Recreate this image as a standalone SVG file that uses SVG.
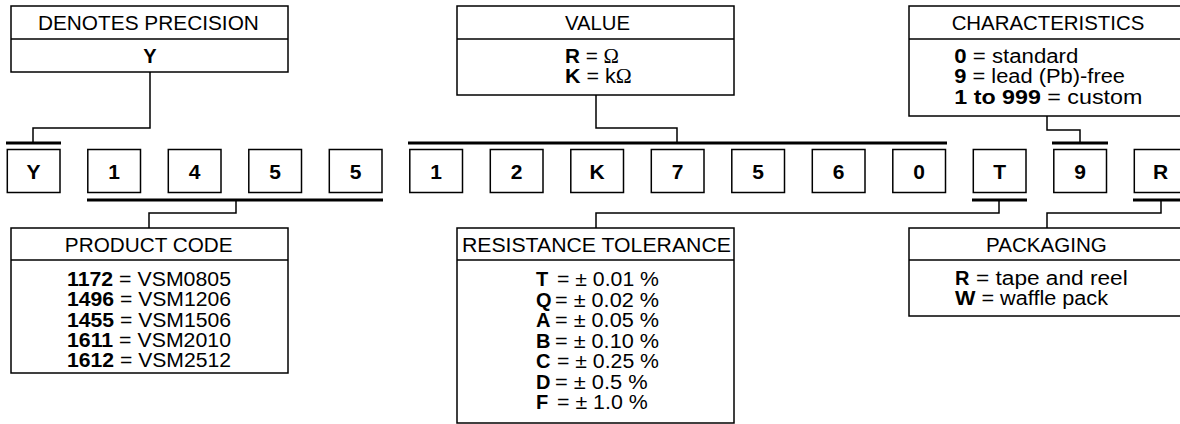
<svg xmlns="http://www.w3.org/2000/svg" width="1180" height="424" viewBox="0 0 1180 424">
<style>
text{font-family:"Liberation Sans",Arial,sans-serif;fill:#000}
.box{fill:#fff;stroke:#000;stroke-width:1.5}
.div{stroke:#000;stroke-width:1.5}
.t{font-size:20px;text-anchor:middle}
.b{font-size:20px}
.k{font-weight:bold}
.c{font-size:21px;font-weight:bold;text-anchor:middle}
.bar{stroke:#000;stroke-width:3;fill:none}
.ln{stroke:#000;stroke-width:1.5;fill:none}
.om{font-family:"Liberation Serif","Times New Roman",serif}
</style>
<rect width="1180" height="424" fill="#fff"/>
<g id="connectors">
<line class="bar" x1="6" y1="143" x2="61" y2="143"/>
<polyline class="ln" points="150,72 150,128 33,128 33,143"/>
<line class="bar" x1="408" y1="143" x2="947" y2="143"/>
<polyline class="ln" points="596,95 596,128 677,128 677,143"/>
<line class="bar" x1="1052" y1="143" x2="1108" y2="143"/>
<polyline class="ln" points="1047,116 1047,130 1080,130 1080,143"/>
<line class="bar" x1="87" y1="200" x2="383" y2="200"/>
<polyline class="ln" points="236,200 236,213 149,213 149,228"/>
<line class="bar" x1="972" y1="200" x2="1027" y2="200"/>
<polyline class="ln" points="999,200 999,213 596,213 596,228"/>
<line class="bar" x1="1133" y1="200" x2="1185" y2="200"/>
<polyline class="ln" points="1161,200 1161,213 1047,213 1047,228"/>
</g>
<g id="code">
<g id="c0"><rect class="box" x="7.3" y="149.5" width="52.7" height="43"/><text class="c" x="33.6" y="178.5">Y</text></g>
<g id="c1"><rect class="box" x="87.8" y="149.5" width="52.7" height="43"/><text class="c" x="114.1" y="178.5">1</text></g>
<g id="c2"><rect class="box" x="168.3" y="149.5" width="52.7" height="43"/><text class="c" x="194.6" y="178.5">4</text></g>
<g id="c3"><rect class="box" x="248.8" y="149.5" width="52.7" height="43"/><text class="c" x="275.1" y="178.5">5</text></g>
<g id="c4"><rect class="box" x="329.3" y="149.5" width="52.7" height="43"/><text class="c" x="355.6" y="178.5">5</text></g>
<g id="c5"><rect class="box" x="409.8" y="149.5" width="52.7" height="43"/><text class="c" x="436.1" y="178.5">1</text></g>
<g id="c6"><rect class="box" x="490.3" y="149.5" width="52.7" height="43"/><text class="c" x="516.6" y="178.5">2</text></g>
<g id="c7"><rect class="box" x="570.8" y="149.5" width="52.7" height="43"/><text class="c" x="597.1" y="178.5">K</text></g>
<g id="c8"><rect class="box" x="651.3" y="149.5" width="52.7" height="43"/><text class="c" x="677.6" y="178.5">7</text></g>
<g id="c9"><rect class="box" x="731.8" y="149.5" width="52.7" height="43"/><text class="c" x="758.1" y="178.5">5</text></g>
<g id="c10"><rect class="box" x="812.3" y="149.5" width="52.7" height="43"/><text class="c" x="838.6" y="178.5">6</text></g>
<g id="c11"><rect class="box" x="892.8" y="149.5" width="52.7" height="43"/><text class="c" x="919.1" y="178.5">0</text></g>
<g id="c12"><rect class="box" x="973.3" y="149.5" width="52.7" height="43"/><text class="c" x="999.6" y="178.5">T</text></g>
<g id="c13"><rect class="box" x="1053.8" y="149.5" width="52.7" height="43"/><text class="c" x="1080.1" y="178.5">9</text></g>
<g id="c14"><rect class="box" x="1134.3" y="149.5" width="52.7" height="43"/><text class="c" x="1160.6" y="178.5">R</text></g>
</g>
<g id="precision">
<rect class="box" x="11" y="6" width="277" height="66"/>
<line class="div" x1="11" y1="39" x2="288" y2="39"/>
<text class="t" x="148.4" y="29.5" textLength="221" lengthAdjust="spacingAndGlyphs">DENOTES PRECISION</text>
<text class="b k" x="150" y="63" text-anchor="middle">Y</text>
</g>
<g id="value">
<rect class="box" x="457" y="6" width="277" height="89"/>
<line class="div" x1="457" y1="39" x2="734" y2="39"/>
<text class="t" x="597.5" y="29.5" textLength="65" lengthAdjust="spacingAndGlyphs">VALUE</text>
<text class="b" x="565" y="63" textLength="54" lengthAdjust="spacingAndGlyphs"><tspan class="k">R</tspan> = <tspan class="om">Ω</tspan></text>
<text class="b" x="565" y="83" textLength="66.7" lengthAdjust="spacingAndGlyphs"><tspan class="k">K</tspan> = k<tspan class="om">Ω</tspan></text>
</g>
<g id="characteristics">
<rect class="box" x="909" y="6" width="277" height="110"/>
<line class="div" x1="909" y1="39" x2="1186" y2="39"/>
<text class="t" x="1048" y="29.5" textLength="192.7" lengthAdjust="spacingAndGlyphs">CHARACTERISTICS</text>
<text class="b" x="954.3" y="62.7" textLength="124" lengthAdjust="spacingAndGlyphs"><tspan class="k">0</tspan> = standard</text>
<text class="b" x="954.3" y="83.3" textLength="170.7" lengthAdjust="spacingAndGlyphs"><tspan class="k">9</tspan> = lead (Pb)-free</text>
<text class="b" x="954.3" y="104" textLength="188" lengthAdjust="spacingAndGlyphs"><tspan class="k">1 to 999</tspan> = custom</text>
</g>
<g id="product">
<rect class="box" x="11" y="228" width="277" height="145"/>
<line class="div" x1="11" y1="260" x2="288" y2="260"/>
<text class="t" x="148.7" y="252.3" textLength="167.7" lengthAdjust="spacingAndGlyphs">PRODUCT CODE</text>
<text class="b" x="67" y="286" textLength="164" lengthAdjust="spacingAndGlyphs"><tspan class="k">1172</tspan> = VSM0805</text>
<text class="b" x="67" y="306.3" textLength="164" lengthAdjust="spacingAndGlyphs"><tspan class="k">1496</tspan> = VSM1206</text>
<text class="b" x="67" y="326.6" textLength="164" lengthAdjust="spacingAndGlyphs"><tspan class="k">1455</tspan> = VSM1506</text>
<text class="b" x="67" y="346.9" textLength="164" lengthAdjust="spacingAndGlyphs"><tspan class="k">1611</tspan> = VSM2010</text>
<text class="b" x="67" y="367.2" textLength="164" lengthAdjust="spacingAndGlyphs"><tspan class="k">1612</tspan> = VSM2512</text>
</g>
<g id="tolerance">
<rect class="box" x="457" y="228" width="277" height="195"/>
<line class="div" x1="457" y1="260" x2="734" y2="260"/>
<text class="t" x="596.4" y="252.3" textLength="269" lengthAdjust="spacingAndGlyphs">RESISTANCE TOLERANCE</text>
<text class="b k" x="536" y="286">T</text><text class="b" x="557" y="286" textLength="102" lengthAdjust="spacingAndGlyphs">= ± 0.01 %</text>
<text class="b k" x="536" y="306.5">Q</text><text class="b" x="555" y="306.5" textLength="104" lengthAdjust="spacingAndGlyphs">= ± 0.02 %</text>
<text class="b k" x="536" y="327">A</text><text class="b" x="555" y="327" textLength="104" lengthAdjust="spacingAndGlyphs">= ± 0.05 %</text>
<text class="b k" x="536" y="347.5">B</text><text class="b" x="555" y="347.5" textLength="104" lengthAdjust="spacingAndGlyphs">= ± 0.10 %</text>
<text class="b k" x="536" y="368">C</text><text class="b" x="557" y="368" textLength="102" lengthAdjust="spacingAndGlyphs">= ± 0.25 %</text>
<text class="b k" x="536" y="388.5">D</text><text class="b" x="555" y="388.5" textLength="92.7" lengthAdjust="spacingAndGlyphs">= ± 0.5 %</text>
<text class="b k" x="536" y="409">F</text><text class="b" x="557" y="409" textLength="90.7" lengthAdjust="spacingAndGlyphs">= ± 1.0 %</text>
</g>
<g id="packaging">
<rect class="box" x="909" y="228" width="277" height="88"/>
<line class="div" x1="909" y1="260" x2="1186" y2="260"/>
<text class="t" x="1046.4" y="252.3" textLength="120.7" lengthAdjust="spacingAndGlyphs">PACKAGING</text>
<text class="b k" x="955" y="285">R</text><text class="b" x="976" y="285" textLength="151.7" lengthAdjust="spacingAndGlyphs">= tape and reel</text>
<text class="b" x="955" y="305" textLength="153" lengthAdjust="spacingAndGlyphs"><tspan class="k">W</tspan> = waffle pack</text>
</g>
</svg>
